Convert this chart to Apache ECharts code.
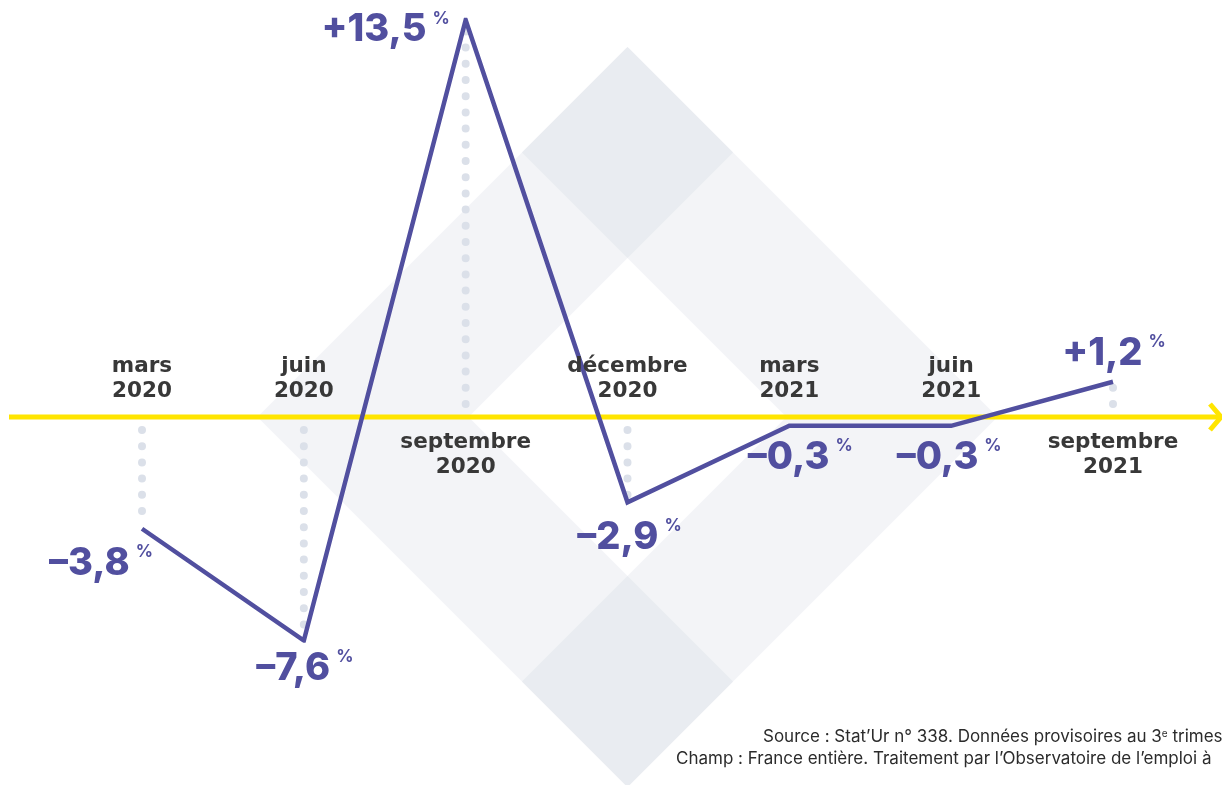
<!DOCTYPE html>
<html>
<head>
<meta charset="utf-8">
<script src="https://cdn.jsdelivr.net/npm/echarts@6/dist/echarts.min.js"></script>
<style>
  html, body { margin: 0; padding: 0; background: #ffffff; }
  #chart { width: 1222px; height: 785px; }
</style>
</head>
<body>
<div id="chart"></div>
<script>
// Quarterly change (%) — month and year of each quarter end
const months = ['mars', 'juin', 'septembre', 'décembre', 'mars', 'juin', 'septembre'];
const years = ['2020', '2020', '2020', '2020', '2021', '2021', '2021'];
const values = [-3.8, -7.6, 13.5, -2.9, -0.3, -0.3, 1.2];

// Where each value label sits relative to its point (px)
const labelOffsets = [[-41, 35], [1, 28], [-80, 10], [2, 35], [11, 32], [-2, 32], [1, -28]];

const sourceLine = 'Source : Stat’Ur n° 338. Données provisoires au 3';
const sourceTail = ' trimestre 2021.';
const fieldLine = 'Champ : France entière. Traitement par l’Observatoire de l’emploi à';

const PURPLE = '#514f9f';
const YELLOW = '#ffe500';
const DOTS = '#dbe0e9';
const LIGHT = '#f3f4f7';
const DARK = '#e9ecf1';
const TEXT = '#383838';

const categories = months.map((m, i) => m + '\n' + years[i]);

function fmt(v) {
  return (v > 0 ? '+' : '–') + Math.abs(v).toFixed(1).replace('.', ',');
}

const chart = echarts.init(document.getElementById('chart'), null, { renderer: 'canvas' });

chart.setOption({
  animation: false,
  backgroundColor: '#ffffff',
  grid: { left: 142, right: 109, top: 20, bottom: 144.5 },
  xAxis: {
    type: 'category',
    data: categories,
    boundaryGap: false,
    axisLine: { show: false },
    axisTick: { show: false },
    axisLabel: { show: false },
    splitLine: { show: false }
  },
  yAxis: {
    type: 'value',
    min: -7.6,
    max: 13.5,
    show: false,
    splitLine: { show: false }
  },
  series: [
    {
      // dotted guides between the baseline and each point
      type: 'custom',
      z: 1,
      silent: true,
      encode: { x: 0, y: 1 },
      data: values.map((v, i) => [i, v]),
      renderItem: function (params, api) {
        const i = api.value(0);
        const v = api.value(1);
        const base = api.coord([i, 0]);
        const tip = api.coord([i, v]);
        const dir = v < 0 ? 1 : -1;
        const y0 = base[1] + dir * 13;
        const y1 = tip[1] - dir * 4;
        if ((y1 - y0) * dir <= 0) return null;
        return {
          type: 'line',
          shape: { x1: base[0], y1: y0, x2: base[0], y2: y1 },
          style: { stroke: DOTS, lineWidth: 8, lineCap: 'round', lineDash: [0, 16.2], opacity: 1 }
        };
      }
    },
    {
      type: 'line',
      z: 4,
      data: values,
      symbol: 'none',
      lineStyle: { color: PURPLE, width: 4.5, join: 'miter', miterLimit: 20, cap: 'butt', opacity: 1 }
    },
    {
      // period names on the opposite side of the baseline from the point
      type: 'scatter',
      z: 5,
      silent: true,
      symbolSize: 0,
      itemStyle: { opacity: 1 },
      emphasis: { disabled: true },
      data: values.map((v, i) => ({
        value: [i, 0],
        label: { position: v > 0 ? 'bottom' : 'top' }
      })),
      label: {
        show: true,
        distance: 13,
        formatter: p => categories[p.dataIndex],
        fontFamily: 'DejaVu Sans',
        fontWeight: 'bold',
        fontSize: 21.5,
        lineHeight: 25,
        color: TEXT,
        opacity: 1,
        align: 'center'
      }
    },
    {
      // value labels
      type: 'scatter',
      z: 6,
      silent: true,
      symbolSize: 0,
      itemStyle: { opacity: 1 },
      emphasis: { disabled: true },
      data: values.map((v, i) => ({
        value: [i, v],
        label: { offset: labelOffsets[i] }
      })),
      label: {
        show: true,
        position: 'inside',
        opacity: 1,
        formatter: p => '{v|' + fmt(values[p.dataIndex]) + '}{p|%}',
        rich: {
          v: { fontFamily: 'Inter', fontWeight: 800, fontSize: 38, lineHeight: 40, color: PURPLE },
          p: { fontFamily: 'Inter', fontWeight: 700, fontSize: 17, lineHeight: 20, verticalAlign: 'top', padding: [0, 0, 0, 6], color: PURPLE }
        }
      }
    }
  ]
});

// Background diamonds and the baseline arrow, placed from the axis scales
const centre = chart.convertToPixel({ xAxisIndex: 0, yAxisIndex: 0 }, [3, 0]);
const cx = centre[0];
const cy = centre[1];
const R = 370;   // outer half-diagonal
const r = 159;   // inner half-diagonal
const d = (R - r) / 2;

function diamond(x, y, h) {
  return [[x, y - h], [x + h, y], [x, y + h], [x - h, y]];
}

chart.setOption({
  graphic: [
    { type: 'polygon', z: -10, silent: true, shape: { points: diamond(cx, cy, R) }, style: { fill: LIGHT } },
    { type: 'polygon', z: -9, silent: true, shape: { points: diamond(cx, cy, r) }, style: { fill: '#ffffff' } },
    { type: 'polygon', z: -8, silent: true, shape: { points: diamond(cx, cy - R + d, d) }, style: { fill: DARK } },
    { type: 'polygon', z: -8, silent: true, shape: { points: diamond(cx, cy + R - d, d) }, style: { fill: DARK } },
    {
      type: 'line', z: 2, silent: true,
      shape: { x1: 9, y1: cy, x2: 1219, y2: cy },
      style: { stroke: YELLOW, lineWidth: 5 }
    },
    {
      type: 'polyline', z: 2, silent: true,
      shape: { points: [[1210, cy - 13], [1221, cy], [1210, cy + 13]] },
      style: { stroke: YELLOW, lineWidth: 5, fill: null, lineJoin: 'miter' }
    },
    {
      type: 'text', z: 10, silent: true,
      left: 763, top: 727,
      style: {
        text: '{t|' + sourceLine + '}{s|e}{t|' + sourceTail + '}',
        rich: {
          t: { fontFamily: 'Inter', fontSize: 17, lineHeight: 20, fill: '#2b2b2b' },
          s: { fontFamily: 'Inter', fontSize: 10, lineHeight: 20, verticalAlign: 'top', fill: '#2b2b2b', padding: [2, 0, 0, 0] }
        }
      }
    },
    {
      type: 'text', z: 10, silent: true,
      left: 676, top: 749,
      style: { text: fieldLine, fontFamily: 'Inter', fontSize: 17, lineHeight: 20, fill: '#2b2b2b' }
    }
  ]
});
</script>
</body>
</html>
